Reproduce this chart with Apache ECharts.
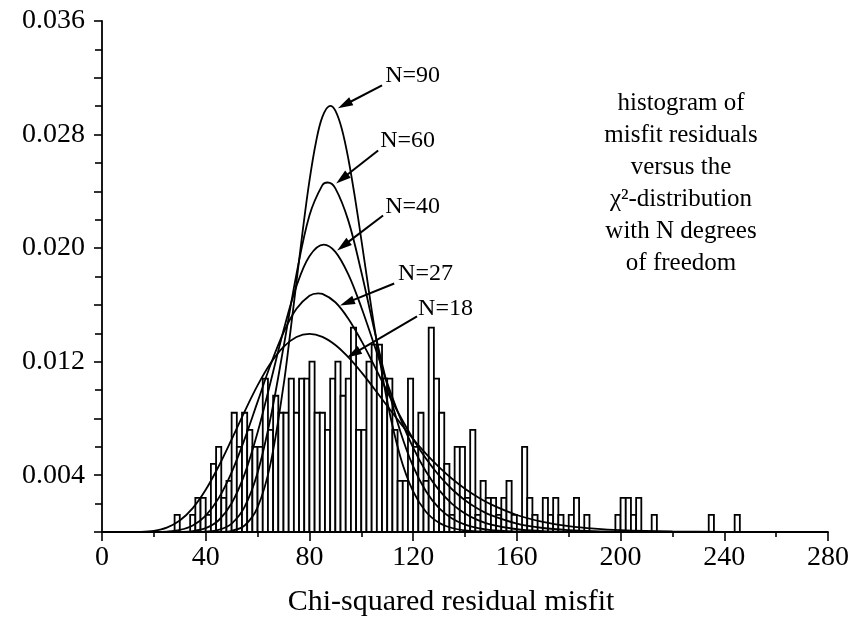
<!DOCTYPE html>
<html><head><meta charset="utf-8">
<script src="https://cdn.jsdelivr.net/npm/echarts@6/dist/echarts.min.js"></script>
<style>html,body{margin:0;padding:0;background:#fff}#c{width:856px;height:623px}</style>
</head><body><div id="c"></div>
<script>
// Histogram bins (left edge, width 2) and densities
const binWidth = 2;
const binStart = [28,34,36,38,40,42,44,46,48,50,52,54,56,58,60,62,64,66,68,70,72,74,76,78,80,82,84,86,88,90,92,94,96,98,100,102,104,106,108,110,112,114,116,118,120,122,124,126,128,130,132,134,136,138,140,142,144,146,148,150,152,154,156,158,162,164,166,170,172,174,176,180,182,186,198,200,202,204,206,212,234,244];
const binDensity = [0.0012,0.0012,0.0024,0.0024,0.0012,0.0048,0.006,0.0024,0.0036,0.0084,0.006,0.0084,0.0072,0.006,0.006,0.0108,0.0072,0.0096,0.0084,0.0084,0.0108,0.0084,0.0108,0.0108,0.012,0.0084,0.0084,0.0072,0.0108,0.012,0.0096,0.0108,0.0144,0.0072,0.0072,0.012,0.0132,0.0132,0.0108,0.0108,0.0072,0.0036,0.0036,0.0108,0.006,0.0084,0.0036,0.0144,0.0108,0.0084,0.0048,0.0012,0.006,0.006,0.0024,0.0072,0.0012,0.0036,0.0024,0.0024,0.0012,0.0024,0.0036,0.0012,0.006,0.0024,0.0012,0.0024,0.0012,0.0024,0.0012,0.0012,0.0024,0.0012,0.0012,0.0024,0.0024,0.0012,0.0024,0.0012,0.0012,0.0012];

// Curve sample points (x positions and heights per curve)
const n18X = [15,20,25,30,35,40,45,50,55,60,65,70,75,80,85,90,95,100,105,110,115,120,125,130,135,140,145,150,160,170,180,190,200,220,240,260,280];
const n18Y = [0.000014,0.000086,0.000311,0.000810,0.001686,0.002978,0.004633,0.006528,0.008487,0.010326,0.011882,0.013038,0.013733,0.013959,0.013751,0.013176,0.012316,0.011260,0.010091,0.008880,0.007686,0.006553,0.005509,0.004573,0.003751,0.003044,0.002444,0.001945,0.001199,0.000716,0.000416,0.000236,0.000131,0.000038,0.000010,0.000003,0.000001];
const n27X = [15,20,25,30,35,40,45,50,55,60,65,70,75,80,83.33,85,90,95,100,105,110,115,120,125,130,135,140,145,150,160,170,180,190,200,220,240,260,280];
const n27Y = [0,0.000004,0.000031,0.000143,0.000462,0.001159,0.002387,0.004207,0.006542,0.009169,0.011780,0.014052,0.015723,0.016641,0.016813,0.016772,0.016186,0.015029,0.013480,0.011717,0.009900,0.008152,0.006555,0.005158,0.003978,0.003011,0.002241,0.001642,0.001185,0.000592,0.000282,0.000129,0.000056,0.000024,0.000004,0.000001,0,0];
const n40X = [15,20,25,30,35,40,45,50,55,60,65,70,75,80,85.5,90,95,100,105,110,115,120,125,130,135,140,145,150,160,170,180,190,200,220,240,260,280];
const n40Y = [0,0,0.000001,0.000011,0.000065,0.000269,0.000829,0.002023,0.004074,0.007005,0.010552,0.014200,0.017321,0.019434,0.020249,0.019740,0.018153,0.015836,0.013174,0.010496,0.008040,0.005942,0.004249,0.002946,0.001987,0.001305,0.000837,0.000525,0.000194,0.000066,0.000021,0.000007,0.000002,0,0,0,0];
const n60X = [15,20,25,30,35,40,45,50,55,60,65,70,75,80,85,87,90,95,100,105,110,115,120,125,130,135,140,145,150,160,170,180,190,200,220,240,260,280];
const n60Y = [0,0,0,0,0.000003,0.000026,0.000148,0.000591,0.001771,0.004172,0.008028,0.013006,0.018166,0.022298,0.024433,0.024624,0.024213,0.021937,0.018339,0.014256,0.010378,0.007115,0.004617,0.002849,0.001678,0.000947,0.000513,0.000268,0.000136,0.000031,0.000007,0.000001,0,0,0,0,0,0];
const n90X = [15,20,25,30,35,40,45,50,55,60,65,70,72.5,75,77.5,80,82.5,85,88,90,92.5,95,97.5,100,102.5,105,110,115,120,125,130,135,140,145,150,160,170,180,190,200,220,240,260,280];
const n90Y = [0,0,0,0,0,0.000001,0.000010,0.000084,0.000459,0.001733,0.004816,0.010305,0.013864,0.017607,0.021350,0.024731,0.027439,0.029241,0.030015,0.029681,0.028391,0.026298,0.023626,0.020622,0.017512,0.014486,0.009208,0.005343,0.002854,0.001411,0.000651,0.000281,0.000114,0.000044,0.000016,0.000002,0,0,0,0,0,0,0,0];

// Annotations (data coordinates)
const annotLabel = ['N=90','N=60','N=40','N=27','N=18'];
const annotTail = [[108.0,0.03147],[106.5,0.02688],[108.4,0.02230],[112.7,0.01751],[121.5,0.01519]];
const annotTip  = [[91.0,0.02985],[90.3,0.02456],[90.7,0.01984],[91.8,0.01596],[94.5,0.01230]];
const annotText = [[109.2,0.03217],[107.3,0.02759],[109.2,0.02294],[114.2,0.01822],[121.9,0.01575]];

const noteLines = ['histogram of','misfit residuals','versus the','\u03c7\u00b2-distribution','with N degrees','of freedom'];

const FONT = '"Liberation Serif","Times New Roman","DejaVu Serif",serif';

const chart = echarts.init(document.getElementById('c'), null, {renderer:'canvas'});

function curveSeries(name, xs, ys){
  return {
    type:'line', name:name, data: xs.map((x,i)=>[x, ys[i]]),
    showSymbol:false, smooth:0.35, lineStyle:{color:'#000', width:1.8},
    z:3, silent:true
  };
}

chart.setOption({
  animation:false,
  backgroundColor:'#fff',
  grid:{left:102, right:28, top:21, bottom:91, containLabel:false},
  xAxis:{
    type:'value', min:0, max:280, interval:40,
    axisLine:{lineStyle:{color:'#000', width:1.8}},
    axisTick:{length:9, lineStyle:{color:'#000', width:1.6}},
    minorTick:{show:true, splitNumber:2, length:5, lineStyle:{color:'#000', width:1.6}},
    axisLabel:{color:'#000', fontFamily:FONT, fontSize:28, margin:12},
    splitLine:{show:false},
    name:'Chi-squared residual misfit', nameLocation:'middle', nameGap:55,
    nameTextStyle:{color:'#000', fontFamily:FONT, fontSize:30, padding:[0,28,0,0]}
  },
  yAxis:{
    type:'value', min:0, max:0.036, interval:0.004,
    axisLine:{lineStyle:{color:'#000', width:1.8}},
    axisTick:{length:8, lineStyle:{color:'#000', width:1.6}},
    minorTick:{show:true, splitNumber:2, length:7, lineStyle:{color:'#000', width:1.6}},
    axisLabel:{color:'#000', fontFamily:FONT, fontSize:28, margin:17,
      formatter:function(v){ return (Math.round(v*1000) % 8 === 4) ? v.toFixed(3) : ''; }},
    splitLine:{show:false}
  },
  graphic:[{
    type:'text', x:681, y:87, z:10,
    style:{text: noteLines.join('\n'), font:'25px '+FONT, textAlign:'center', textVerticalAlign:'top', lineHeight:32, fill:'#000'}
  }],
  series:[
    {
      type:'custom', name:'histogram', z:2, silent:true,
      data: binStart.map((s,i)=>[s, binDensity[i]]),
      encode:{x:0, y:1},
      renderItem:function(params, api){
        const x0 = api.value(0), h = api.value(1);
        const p0 = api.coord([x0, 0]);
        const p1 = api.coord([x0 + binWidth, h]);
        return {type:'rect', shape:{x:p0[0], y:p1[1], width:p1[0]-p0[0], height:p0[1]-p1[1]},
          style:{fill:'#fff', stroke:'#000', lineWidth:1.8}};
      }
    },
    curveSeries('N=18', n18X, n18Y),
    curveSeries('N=27', n27X, n27Y),
    curveSeries('N=40', n40X, n40Y),
    curveSeries('N=60', n60X, n60Y),
    curveSeries('N=90', n90X, n90Y),
    {
      type:'custom', name:'annotations', z:5, silent:true,
      data: annotLabel.map((l,i)=>[annotTail[i][0], annotTail[i][1], annotTip[i][0], annotTip[i][1], annotText[i][0], annotText[i][1]]),
      renderItem:function(params, api){
        const i = params.dataIndex;
        const p0 = api.coord([api.value(0), api.value(1)]);
        const p1 = api.coord([api.value(2), api.value(3)]);
        const pt = api.coord([api.value(4), api.value(5)]);
        const dx = p1[0]-p0[0], dy = p1[1]-p0[1];
        const L = Math.sqrt(dx*dx+dy*dy), ux = dx/L, uy = dy/L;
        const hl = 15, hw = 4.5;
        const bx = p1[0]-ux*hl, by = p1[1]-uy*hl;
        return {type:'group', children:[
          {type:'line', shape:{x1:p0[0], y1:p0[1], x2:bx+ux*3, y2:by+uy*3}, style:{stroke:'#000', lineWidth:2}},
          {type:'polygon', shape:{points:[[p1[0],p1[1]],[bx-uy*hw, by+ux*hw],[bx+uy*hw, by-ux*hw]]}, style:{fill:'#000'}},
          {type:'text', x:pt[0], y:pt[1], style:{text:annotLabel[i], font:'24px '+FONT, textAlign:'left', textVerticalAlign:'middle', fill:'#000'}}
        ]};
      }
    }
  ]
});
</script></body></html>
